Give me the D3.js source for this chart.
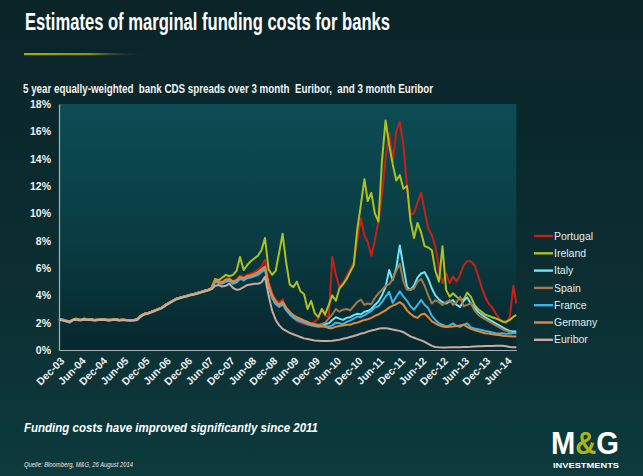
<!DOCTYPE html>
<html>
<head>
<meta charset="utf-8">
<script src="https://cdn.jsdelivr.net/npm/d3@7"></script>
<style>
  html, body { margin: 0; padding: 0; background: #0b2b2f; }
  svg { display: block; }
</style>
</head>
<body>
<svg id="chart" width="643" height="476"></svg>
<script>
// ---------- DATA ----------
// Monthly observations from Dec 2003 to Aug 2014, plus the final observation on 26 Aug 2014
const startMonth = "2003-12-01";
const lastMonth = "2014-08-01";
const finalDate = "2014-08-26";

const seriesNames = ["Portugal", "Ireland", "Italy", "Spain", "France", "Germany", "Euribor"];
const seriesColors = ["#c81f17", "#adc11f", "#6fe5f5", "#a5784c", "#3db3e6", "#e08a39", "#c9aba0"];

const tickLabels = ["Dec-03","Jun-04","Dec-04","Jun-05","Dec-05","Jun-06","Dec-06","Jun-07","Dec-07",
  "Jun-08","Dec-08","Jun-09","Dec-09","Jun-10","Dec-10","Jun-11","Dec-11","Jun-12","Dec-12","Jun-13","Dec-13","Jun-14"];
const yTicks = [0, 2, 4, 6, 8, 10, 12, 14, 16, 18];

const portugal = [
  2.25,2.2,2.15,2.1,2.25,2.25,2.2,2.3,2.25,2.25,2.2,2.25,2.25,2.25,2.2,2.25,2.25,2.2,2.25,2.2,2.2,2.2,
  2.25,2.5,2.65,2.7,2.8,2.9,3.0,3.1,3.3,3.45,3.6,3.75,3.83,3.9,3.97,4.05,4.1,4.17,4.25,4.33,4.4,4.5,
  5.15,5.05,5.0,5.2,5.25,5.05,5.15,5.45,5.35,5.5,5.6,5.7,5.85,6.1,6.6,
  5.0,4.2,3.7,3.45,3.7,3.05,2.7,2.4,2.1,2.0,1.9,1.85,1.95,2.05,2.3,
  3.0,2.5,2.4,6.8,5.5,4.6,4.9,5.4,5.9,6.4,8.0,9.6,8.4,7.9,6.9,
  8.0,9.4,11.3,14.0,15.9,13.8,16.0,16.7,15.0,12.0,9.9,10.0,10.8,11.5,10.2,
  8.9,8.4,7.6,6.0,4.9,5.6,4.9,5.4,5.0,5.5,6.2,6.5,6.5,6.2,5.5,
  4.6,3.9,3.4,3.1,2.7,2.3,2.1,1.95,2.4,4.7,
  3.4
];
const ireland = [
  2.3,2.2,2.15,2.1,2.25,2.3,2.2,2.3,2.25,2.25,2.2,2.25,2.25,2.25,2.2,2.25,2.25,2.2,2.25,2.2,2.2,2.2,
  2.25,2.5,2.65,2.7,2.8,2.9,3.0,3.1,3.3,3.45,3.6,3.75,3.83,3.9,3.97,4.05,4.1,4.17,4.25,4.33,4.42,4.55,
  5.2,5.1,5.3,5.5,5.4,5.5,5.8,6.8,5.85,6.2,6.5,6.7,6.9,7.3,8.2,
  5.9,5.5,5.8,7.2,8.5,6.4,4.8,4.6,5.0,4.3,4.1,3.0,3.6,2.7,2.4,
  3.0,2.6,3.3,4.0,3.6,4.5,4.8,5.2,5.7,6.2,8.8,10.6,12.5,10.9,11.5,
  10.0,9.4,13.8,16.8,15.0,13.6,12.4,12.8,11.8,12.0,9.5,8.2,9.3,8.6,7.6,
  7.5,7.3,5.8,5.0,7.6,4.4,3.9,4.15,3.9,3.7,3.7,4.2,3.9,3.3,3.0,
  2.8,2.6,2.5,2.4,2.32,2.2,2.07,2.07,2.2,2.44,
  2.56
];
const italy = [
  2.25,2.2,2.1,2.05,2.2,2.25,2.2,2.25,2.2,2.25,2.2,2.2,2.25,2.2,2.2,2.2,2.25,2.2,2.2,2.2,2.2,2.2,
  2.25,2.5,2.65,2.7,2.8,2.9,3.0,3.1,3.3,3.45,3.6,3.75,3.83,3.9,3.97,4.05,4.1,4.17,4.25,4.33,4.4,4.5,
  5.05,4.95,4.9,5.05,5.1,4.9,5.0,5.25,5.15,5.3,5.35,5.45,5.55,5.75,6.0,
  4.7,3.9,3.45,3.25,3.45,3.0,2.7,2.45,2.3,2.2,2.1,2.0,1.9,1.85,1.8,
  1.85,1.9,1.95,2.2,2.4,2.3,2.2,2.35,2.4,2.55,2.65,2.6,2.8,2.85,3.0,
  3.3,3.55,4.0,4.6,5.85,5.1,6.0,7.65,6.1,4.6,4.4,4.7,5.3,5.6,5.7,
  5.2,4.5,4.0,3.7,3.5,3.4,3.55,3.65,3.3,3.15,3.6,3.85,3.4,3.1,2.8,
  2.6,2.4,2.25,2.1,1.95,1.8,1.65,1.5,1.4,1.35,
  1.38
];
const spain = [
  2.2,2.25,2.15,2.1,2.2,2.2,2.25,2.2,2.25,2.2,2.2,2.25,2.2,2.2,2.25,2.2,2.2,2.2,2.25,2.2,2.15,2.2,
  2.25,2.5,2.65,2.7,2.8,2.9,3.0,3.1,3.3,3.45,3.6,3.75,3.83,3.9,3.97,4.05,4.1,4.17,4.25,4.33,4.4,4.5,
  5.1,5.0,4.95,5.1,5.2,5.0,5.05,5.3,5.2,5.35,5.45,5.55,5.65,5.85,6.1,
  4.75,3.95,3.5,3.3,3.55,3.05,2.75,2.5,2.35,2.25,2.15,2.05,1.95,1.9,1.85,
  1.9,2.0,2.3,2.6,3.0,2.8,2.95,3.0,2.9,3.2,3.5,3.7,3.3,3.4,3.35,
  3.8,4.15,4.4,4.7,4.8,5.2,5.8,6.3,5.0,4.4,4.4,4.5,5.0,5.2,4.7,
  4.0,3.4,3.65,3.5,3.3,3.5,3.65,3.3,3.5,3.9,3.2,3.3,3.4,2.9,2.6,
  2.4,2.25,2.1,1.95,1.8,1.65,1.5,1.4,1.3,1.25,
  1.22
];
const france = [
  2.3,2.2,2.1,2.0,2.2,2.2,2.2,2.25,2.2,2.2,2.15,2.2,2.25,2.2,2.15,2.2,2.2,2.15,2.2,2.2,2.15,2.15,
  2.2,2.45,2.6,2.68,2.78,2.88,2.98,3.08,3.28,3.42,3.58,3.72,3.8,3.88,3.95,4.02,4.08,4.15,4.22,4.3,4.38,4.48,
  5.0,4.9,4.85,5.0,5.05,4.85,4.95,5.2,5.1,5.25,5.3,5.4,5.5,5.7,5.9,
  4.6,3.8,3.35,3.15,3.35,2.9,2.6,2.35,2.2,2.1,2.0,1.9,1.8,1.75,1.7,
  1.72,1.75,1.7,1.8,2.0,1.95,1.9,2.05,2.15,2.3,2.45,2.4,2.55,2.7,2.85,
  3.1,3.2,3.5,3.9,4.25,3.45,3.9,4.3,3.9,3.6,3.2,2.95,3.3,3.65,3.3,
  3.05,2.5,2.2,1.95,1.85,1.72,1.8,1.95,1.75,1.7,1.85,1.95,1.65,1.58,1.52,
  1.46,1.4,1.35,1.28,1.22,1.2,1.22,1.18,1.2,1.25,
  1.28
];
const germany = [
  2.25,2.2,2.15,2.1,2.2,2.25,2.2,2.25,2.2,2.25,2.2,2.2,2.25,2.2,2.2,2.2,2.25,2.2,2.2,2.2,2.2,2.2,
  2.25,2.5,2.65,2.7,2.8,2.9,3.0,3.1,3.3,3.45,3.6,3.75,3.83,3.9,3.97,4.05,4.1,4.17,4.25,4.33,4.4,4.5,
  5.1,5.0,4.95,5.15,5.2,5.0,5.1,5.35,5.25,5.4,5.45,5.55,5.7,5.9,6.1,
  4.8,4.0,3.55,3.3,3.5,3.1,2.8,2.55,2.4,2.3,2.15,2.05,1.9,1.85,1.8,
  1.75,1.7,1.6,1.6,1.7,1.75,1.8,1.85,1.85,1.95,2.0,2.1,2.2,2.25,2.35,
  2.5,2.6,2.75,2.9,3.1,3.25,3.35,3.5,3.3,2.9,2.65,2.45,2.35,2.6,2.65,
  2.4,2.1,1.95,1.8,1.72,1.68,1.7,1.72,1.75,1.8,1.85,1.7,1.55,1.45,1.38,
  1.3,1.22,1.2,1.15,1.12,1.1,1.05,1.02,1.0,0.98,
  0.98
];
const euribor = [
  2.2,2.15,2.1,2.05,2.2,2.2,2.15,2.25,2.2,2.2,2.15,2.2,2.2,2.2,2.15,2.2,2.2,2.15,2.2,2.15,2.15,2.15,
  2.2,2.45,2.6,2.65,2.75,2.85,2.95,3.05,3.25,3.4,3.55,3.7,3.78,3.85,3.92,4.0,4.05,4.12,4.2,4.28,4.35,4.45,
  4.7,4.75,4.65,4.7,4.85,4.55,4.4,4.45,4.6,4.75,4.8,4.85,4.85,4.95,5.35,
  4.0,2.9,2.2,1.8,1.55,1.4,1.25,1.15,1.05,0.95,0.85,0.8,0.75,0.7,0.68,
  0.66,0.65,0.66,0.68,0.72,0.75,0.82,0.88,0.95,1.02,1.1,1.2,1.25,1.35,1.42,
  1.48,1.55,1.6,1.6,1.55,1.5,1.45,1.4,1.3,1.15,1.0,0.9,0.8,0.7,0.6,
  0.45,0.3,0.22,0.2,0.19,0.18,0.2,0.21,0.21,0.2,0.22,0.22,0.23,0.25,0.27,
  0.28,0.3,0.29,0.3,0.31,0.32,0.31,0.28,0.22,0.2,
  0.2
];

// ---------- BUILD ----------
const seriesValues = [portugal, ireland, italy, spain, france, germany, euribor];
const parseDay = d3.timeParse("%Y-%m-%d");
const dates = d3.timeMonth.range(parseDay(startMonth), d3.timeMonth.offset(parseDay(lastMonth), 1));
dates.push(parseDay(finalDate));

const svg = d3.select("#chart");
const W = 643, H = 476;
const plot = { left: 59, right: 516.3, top: 104, bottom: 350 };

const defs = svg.append("defs");
const bgGrad = defs.append("linearGradient").attr("id", "bg").attr("x1", 0).attr("y1", 0).attr("x2", 0).attr("y2", 1);
bgGrad.append("stop").attr("offset", "0%").attr("stop-color", "#0a2428");
bgGrad.append("stop").attr("offset", "55%").attr("stop-color", "#0b2d31");
bgGrad.append("stop").attr("offset", "100%").attr("stop-color", "#0d3a3d");
const plotGrad = defs.append("linearGradient").attr("id", "plotbg").attr("x1", 0).attr("y1", 0).attr("x2", 0).attr("y2", 1);
plotGrad.append("stop").attr("offset", "0%").attr("stop-color", "#0c4c54");
plotGrad.append("stop").attr("offset", "55%").attr("stop-color", "#093c43");
plotGrad.append("stop").attr("offset", "100%").attr("stop-color", "#06272d");
const barGrad = defs.append("linearGradient").attr("id", "bar").attr("x1", 0).attr("y1", 0).attr("x2", 1).attr("y2", 0);
barGrad.append("stop").attr("offset", "0%").attr("stop-color", "#a8ab1c");
barGrad.append("stop").attr("offset", "55%").attr("stop-color", "#8c8f1e");
barGrad.append("stop").attr("offset", "100%").attr("stop-color", "#0b2a2e").attr("stop-opacity", 0);

svg.append("rect").attr("width", W).attr("height", H).attr("fill", "url(#bg)");

// Title block
svg.append("text").attr("x", 25).attr("y", 30)
  .attr("font-family", "Liberation Sans, Arial, sans-serif").attr("font-weight", "bold")
  .attr("font-size", 24).attr("fill", "#ffffff")
  .attr("textLength", 365).attr("lengthAdjust", "spacingAndGlyphs")
  .text("Estimates of marginal funding costs for banks");
svg.append("rect").attr("x", 24).attr("y", 53).attr("width", 120).attr("height", 2.2).attr("fill", "url(#bar)");
svg.append("text").attr("x", 23).attr("y", 93)
  .attr("font-family", "Liberation Sans, Arial, sans-serif").attr("font-weight", "bold")
  .attr("font-size", 12).attr("fill", "#f2f2f2")
  .attr("xml:space", "preserve").style("white-space", "pre")
  .attr("textLength", 410).attr("lengthAdjust", "spacingAndGlyphs")
  .text("5 year equally-weighted  bank CDS spreads over 3 month  Euribor,  and 3 month Euribor");

// Scales
const x = d3.scaleTime().domain([parseDay(startMonth), parseDay(finalDate)]).range([plot.left, plot.right]);
const y = d3.scaleLinear().domain([0, 18]).range([plot.bottom, plot.top]);

svg.append("rect").attr("x", plot.left).attr("y", plot.top)
  .attr("width", plot.right - plot.left).attr("height", plot.bottom - plot.top)
  .attr("fill", "url(#plotbg)");

// Lines
const line = d3.line().x((d, i) => x(dates[i])).y(d => y(d));
const linesG = svg.append("g");
seriesValues.forEach((vals, k) => {
  linesG.append("path").datum(vals)
    .attr("d", line)
    .attr("fill", "none")
    .attr("stroke", seriesColors[k])
    .attr("stroke-width", 2)
    .attr("stroke-linejoin", "round");
});

// Axes
const yAxis = svg.append("g").attr("transform", `translate(${plot.left},0)`)
  .call(d3.axisLeft(y).tickValues(yTicks).tickFormat(d => d + "%").tickSize(0).tickPadding(8));
yAxis.select(".domain").attr("stroke", "#9fb4b6").attr("stroke-width", 1.2);
yAxis.selectAll("text")
  .attr("font-family", "Liberation Sans, Arial, sans-serif").attr("font-weight", "bold")
  .attr("font-size", 10.5).attr("fill", "#f0f0f0");

const parseTick = d3.timeParse("%b-%y");
const tickDates = tickLabels.map(t => parseTick(t));
const xAxis = svg.append("g").attr("transform", `translate(0,${plot.bottom})`)
  .call(d3.axisBottom(x).tickValues(tickDates).tickFormat((d, i) => tickLabels[i]).tickSize(0).tickPadding(0));
xAxis.select(".domain").attr("stroke", "#9fb4b6").attr("stroke-width", 1.2);
xAxis.selectAll("text")
  .attr("font-family", "Liberation Sans, Arial, sans-serif").attr("font-weight", "bold")
  .attr("font-size", 10.5).attr("fill", "#f0f0f0")
  .attr("text-anchor", "end")
  .attr("dy", "0.35em").attr("y", 0)
  .attr("transform", "translate(3,9) rotate(-45)");

// Legend
const legend = svg.append("g").attr("transform", "translate(534,236)");
seriesNames.forEach((name, k) => {
  const g = legend.append("g").attr("transform", `translate(0,${k * 17.3})`);
  g.append("line").attr("x1", 0).attr("x2", 19).attr("y1", 0).attr("y2", 0)
    .attr("stroke", seriesColors[k]).attr("stroke-width", 2.4);
  g.append("text").attr("x", 20).attr("y", 0).attr("dy", "0.35em")
    .attr("font-family", "Liberation Sans, Arial, sans-serif")
    .attr("font-size", 10.5).attr("fill", "#e4ecec")
    .text(name);
});

// Footer
svg.append("text").attr("x", 24).attr("y", 432)
  .attr("font-family", "Liberation Sans, Arial, sans-serif").attr("font-weight", "bold").attr("font-style", "italic")
  .attr("font-size", 13).attr("fill", "#ffffff")
  .attr("textLength", 294).attr("lengthAdjust", "spacingAndGlyphs")
  .text("Funding costs have improved significantly since 2011");
svg.append("text").attr("x", 24).attr("y", 467)
  .attr("font-family", "Liberation Sans, Arial, sans-serif").attr("font-style", "italic")
  .attr("font-size", 7).attr("fill", "#e6e6e6")
  .attr("textLength", 109).attr("lengthAdjust", "spacingAndGlyphs")
  .text("Quelle: Bloomberg, M&G, 26 August 2014");

// Logo
const logo = svg.append("text").attr("x", 551).attr("y", 454)
  .attr("font-family", "Liberation Sans, Arial, sans-serif").attr("font-weight", "bold")
  .attr("font-size", 31).attr("fill", "#ffffff")
  .attr("textLength", 68).attr("lengthAdjust", "spacingAndGlyphs");
logo.append("tspan").text("M");
logo.append("tspan").attr("fill", "#a9b51a").text("&");
logo.append("tspan").text("G");
svg.append("text").attr("x", 553).attr("y", 468)
  .attr("font-family", "Liberation Sans, Arial, sans-serif").attr("font-weight", "bold")
  .attr("font-size", 6.5).attr("fill", "#ffffff")
  .attr("textLength", 66).attr("lengthAdjust", "spacingAndGlyphs")
  .text("INVESTMENTS");
</script>
</body>
</html>
